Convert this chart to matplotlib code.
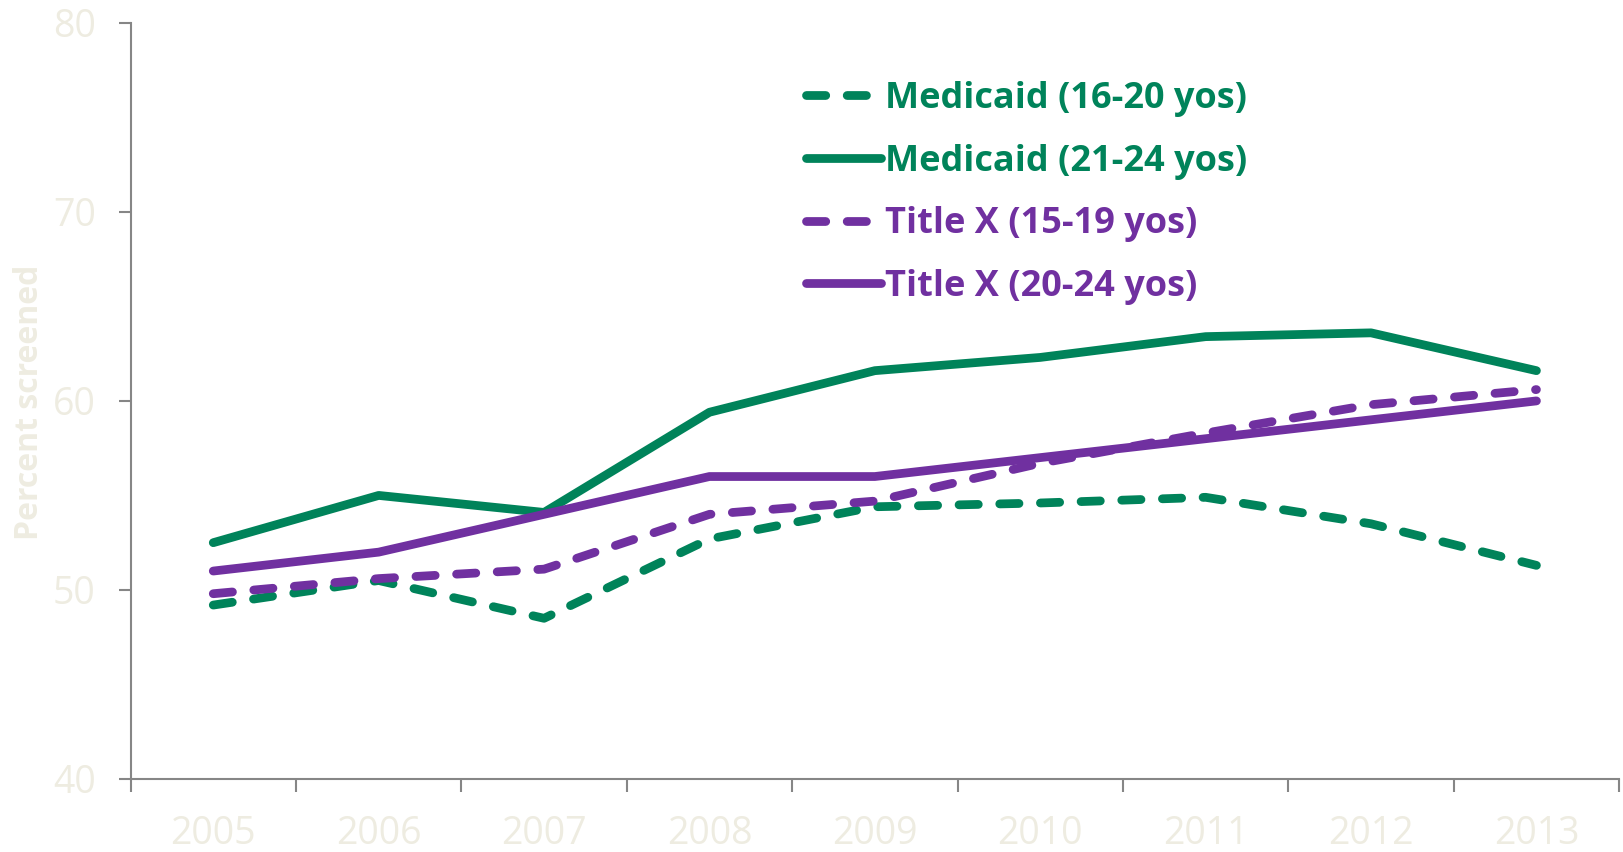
import matplotlib
matplotlib.use('Agg')
from matplotlib import pyplot as plt
from matplotlib.ticker import FixedLocator

years = ['2005', '2006', '2007', '2008', '2009', '2010', '2011', '2012', '2013']

medicaid_16_20 = [49.2, 50.5, 48.5, 52.7, 54.4, 54.6, 54.9, 53.5, 51.3]
medicaid_21_24 = [52.5, 55.0, 54.1, 59.4, 61.6, 62.3, 63.4, 63.6, 61.6]
titlex_15_19 = [49.8, 50.6, 51.1, 54.0, 54.7, 56.7, 58.3, 59.8, 60.6]
titlex_20_24 = [51.0, 52.0, 54.0, 56.0, 56.0, 57.0, 58.0, 59.0, 60.0]

labels = ['Medicaid (16-20 yos)', 'Medicaid (21-24 yos)',
          'Title X (15-19 yos)', 'Title X (20-24 yos)']

green = '#00835A'
purple = '#7030A0'
beige = '#EEECE1'
axis_gray = '#868686'
font = ['Open Sans', 'DejaVu Sans']

fig = plt.figure(figsize=(16.24, 8.52), dpi=100)
ax = fig.add_axes([0.0804, 0.0857, 0.9166, 0.8875])

x = range(len(years))
lw = 6.3
dash = (2.2, 2.45)
ax.plot(x, medicaid_16_20, color=green, lw=lw, dashes=dash, dash_capstyle='round', label=labels[0])
ax.plot(x, medicaid_21_24, color=green, lw=lw, solid_capstyle='round', label=labels[1])
ax.plot(x, titlex_15_19, color=purple, lw=lw, dashes=dash, dash_capstyle='round', label=labels[2])
ax.plot(x, titlex_20_24, color=purple, lw=lw, solid_capstyle='round', label=labels[3])

ax.set_xlim(-0.5, len(years) - 0.5)
ax.set_ylim(40, 80)
ax.set_yticks([40, 50, 60, 70, 80])

# labels at category centres, tick marks on the boundaries
ax.set_xticks(list(x))
ax.set_xticklabels(years)
ax.xaxis.set_minor_locator(FixedLocator([i - 0.5 for i in range(len(years) + 1)]))
ax.tick_params(axis='x', which='major', length=0, pad=26)
ax.tick_params(axis='x', which='minor', length=9, width=1.5, color=axis_gray, direction='out')
ax.tick_params(axis='y', length=9, width=1.5, color=axis_gray, pad=16)
for t in ax.get_xticklabels() + ax.get_yticklabels():
    t.set_family(font)
    t.set_fontsize(27)
    t.set_color(beige)

for s in ['top', 'right']:
    ax.spines[s].set_visible(False)
for s in ['left', 'bottom']:
    ax.spines[s].set_color(axis_gray)
    ax.spines[s].set_linewidth(1.5)

fig.text(0.018, 0.528, 'Percent screened', rotation=90, ha='center', va='center',
         fontsize=23, fontweight='bold', color=beige, family=font)

leg = ax.legend(loc='upper left', bbox_to_anchor=(0.496, 0.905), bbox_transform=fig.transFigure,
                frameon=False, borderpad=0, borderaxespad=0, handlelength=2.08,
                handletextpad=0.12, labelspacing=0.74,
                prop={'family': 'Open Sans', 'weight': 'bold', 'size': 26})
for txt, c in zip(leg.get_texts(), [green, green, purple, purple]):
    txt.set_color(c)

fig.savefig('out.png', dpi=100)
